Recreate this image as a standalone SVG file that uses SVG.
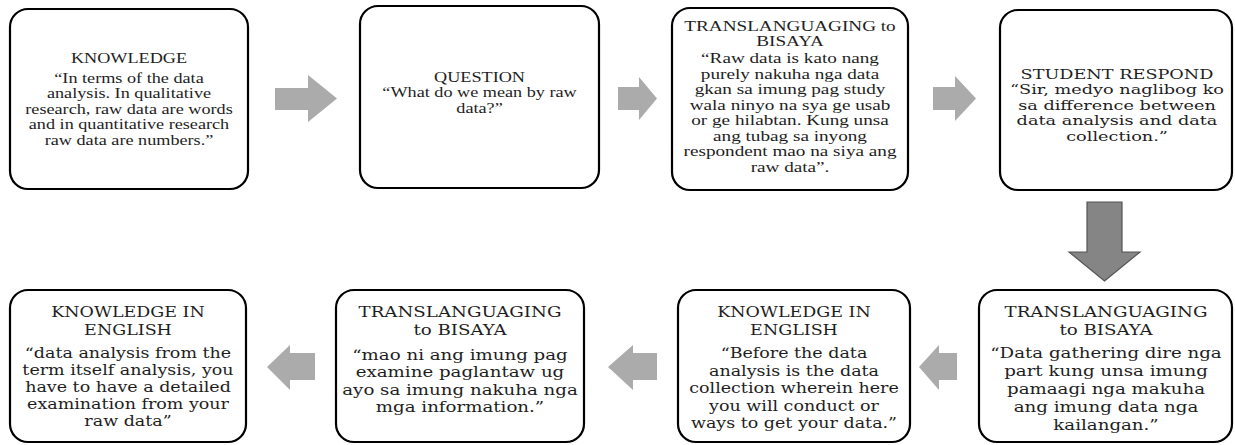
<svg xmlns="http://www.w3.org/2000/svg" width="1235" height="445" viewBox="0 0 1235 445">
<style>
.box{fill:#fff;stroke:#000;stroke-width:2.2}
.t{font-family:"Liberation Serif","Times New Roman",serif;font-size:14px;fill:#1e1e1e;text-anchor:middle}
.b{font-family:"DejaVu Serif",serif;font-size:13px;fill:#1e1e1e;text-anchor:middle}
.arr{fill:#ababab}
.darr{fill:#858585;stroke:#555;stroke-width:1.2}
</style>
<rect width="1235" height="445" fill="#fff"/>
<g id="connectors">
<polygon class="arr" points="275,88 308,88 308,75 337,98.5 308,122 308,110 275,110"/>
<polygon class="arr" points="618,87 639,87 639,77 657,98.5 639,120 639,110 618,110"/>
<polygon class="arr" points="933,87 955,87 955,76 976,98.5 955,121 955,110 933,110"/>
<polygon class="darr" points="1087,202 1122,202 1122,252 1140,252 1104.5,281 1069,252 1087,252"/>
<polygon class="arr" points="957,353 939,353 939,345 919,367 939,390 939,380 957,380"/>
<polygon class="arr" points="657,353 633,353 633,345 608,367 633,390 633,380 657,380"/>
<polygon class="arr" points="315,353 290,353 290,345 267,367 290,390 290,380 315,380"/>
</g>
<g id="n1">
<rect class="box" x="10" y="9" width="238" height="180" rx="18"/>
<g transform="translate(129,0) scale(1.3,1)" class="t">
<text x="0" y="63">KNOWLEDGE</text>
<text x="0" y="83">“In terms of the data</text>
<text x="0" y="98.5">analysis. In qualitative</text>
<text x="0" y="114">research, raw data are words</text>
<text x="0" y="129.5">and in quantitative research</text>
<text x="0" y="145">raw data are numbers.”</text>
</g>
</g>
<g id="n2">
<rect class="box" x="360" y="6" width="239" height="182" rx="18"/>
<g transform="translate(479.5,0) scale(1.3,1)" class="t">
<text x="0" y="82">QUESTION</text>
<text x="0" y="97.5">“What do we mean by raw</text>
<text x="0" y="113">data?”</text>
</g>
</g>
<g id="n3">
<rect class="box" x="672" y="8" width="236" height="182" rx="18"/>
<g transform="translate(790,0) scale(1.37,1)" class="t">
<text x="0" y="31">TRANSLANGUAGING to</text>
<text x="0" y="46.5">BISAYA</text>
<text x="0" y="63.5">“Raw data is kato nang</text>
<text x="0" y="79">purely nakuha  nga data</text>
<text x="0" y="94.5">gkan sa imung pag study</text>
<text x="0" y="110">wala ninyo na sya ge usab</text>
<text x="0" y="125.5">or ge hilabtan. Kung unsa</text>
<text x="0" y="141">ang tubag sa  inyong</text>
<text x="0" y="156.5">respondent mao na siya ang</text>
<text x="0" y="172">raw data”.</text>
</g>
</g>
<g id="n4">
<rect class="box" x="1000" y="10" width="232" height="180" rx="18"/>
<g transform="translate(1117,0) scale(1.36,1)" class="b">
<text x="0" y="79">STUDENT RESPOND</text>
<text x="0" y="94.5">“Sir, medyo naglibog ko</text>
<text x="0" y="110">sa difference between</text>
<text x="0" y="125.5">data analysis and data</text>
<text x="0" y="141">collection.”</text>
</g>
</g>
<g id="n5">
<rect class="box" x="979" y="290" width="253" height="152" rx="18"/>
<g transform="translate(1106,0) scale(1.3,1)" class="b" style="font-size:14px">
<text x="0" y="317">TRANSLANGUAGING</text>
<text x="0" y="335">to BISAYA</text>
<text x="0" y="358">“Data gathering dire nga</text>
<text x="0" y="376">part kung unsa imung</text>
<text x="0" y="394">pamaagi nga makuha</text>
<text x="0" y="412">ang imung data nga</text>
<text x="0" y="430">kailangan.”</text>
</g>
</g>
<g id="n6">
<rect class="box" x="678" y="290" width="232" height="152" rx="18"/>
<g transform="translate(794,0) scale(1.25,1)" class="b" style="font-size:14px">
<text x="0" y="317">KNOWLEDGE IN</text>
<text x="0" y="335">ENGLISH</text>
<text x="0" y="358">“Before the data</text>
<text x="0" y="376">analysis is the data</text>
<text x="0" y="393.5">collection wherein here</text>
<text x="0" y="411">you will conduct or</text>
<text x="0" y="428.5">ways to get your data.”</text>
</g>
</g>
<g id="n7">
<rect class="box" x="336" y="290" width="248" height="152" rx="18"/>
<g transform="translate(460,0) scale(1.3,1)" class="b" style="font-size:14px">
<text x="0" y="317">TRANSLANGUAGING</text>
<text x="0" y="335">to BISAYA</text>
<text x="0" y="360">“mao ni ang imung pag</text>
<text x="0" y="377.5">examine paglantaw ug</text>
<text x="0" y="395">ayo sa imung nakuha nga</text>
<text x="0" y="412.5">mga information.”</text>
</g>
</g>
<g id="n8">
<rect class="box" x="10" y="290" width="236" height="152" rx="18"/>
<g transform="translate(128,0) scale(1.25,1)" class="b" style="font-size:14px">
<text x="0" y="317">KNOWLEDGE IN</text>
<text x="0" y="335">ENGLISH</text>
<text x="0" y="358">“data analysis from the</text>
<text x="0" y="375">term itself analysis, you</text>
<text x="0" y="392">have to have a detailed</text>
<text x="0" y="409">examination from  your</text>
<text x="0" y="426">raw data”</text>
</g>
</g>
</svg>
